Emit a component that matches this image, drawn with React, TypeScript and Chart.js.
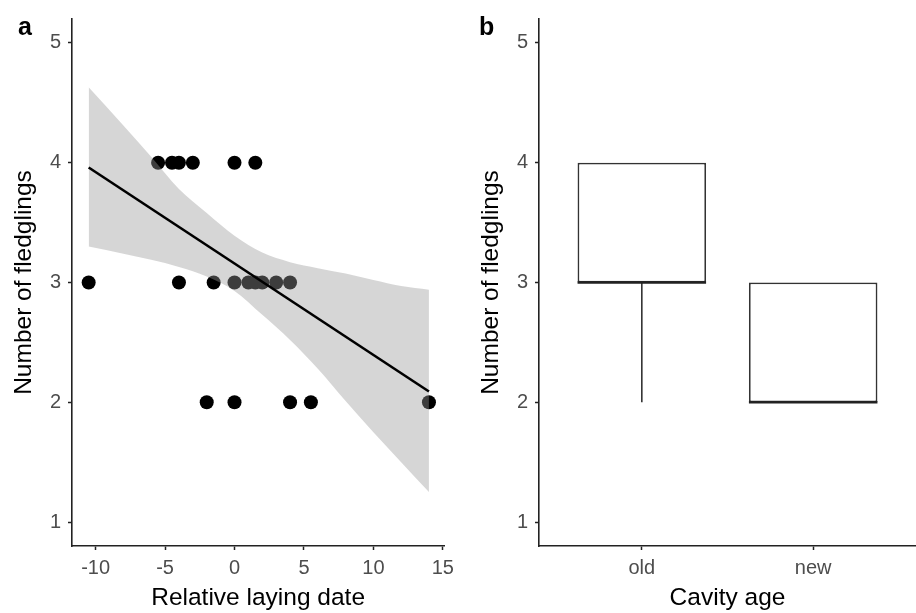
import React, { useEffect, useRef } from 'react';
import { Chart, registerables } from 'chart.js';

Chart.register(...registerables);

const FONT = "'Liberation Sans', Arial, Helvetica, sans-serif";

// Panel a: scatter of fledglings vs relative laying date
const layingDate = [-10.5, -5.5, -4.5, -4, -3, 0, 1.5, -4, -1.5, 0, 1, 1.5, 2, 3, 4, -2, 0, 4, 5.5, 14];
const fledglings = [3, 4, 4, 4, 4, 4, 4, 3, 3, 3, 3, 3, 3, 3, 3, 2, 2, 2, 2, 2];

// Fitted regression line (end points)
const fitX = [-10.5, 14];
const fitY = [3.96, 2.09];

// Confidence band
const bandX = [-10.5, -8, -6, -4, -2, 0, 2, 4, 6, 8, 10, 12, 14];
const bandUpper = [4.63, 4.31, 4.05, 3.78, 3.58, 3.39, 3.25, 3.17, 3.12, 3.075, 3.02, 2.97, 2.94];
const bandLower = [3.3, 3.24, 3.19, 3.13, 3.05, 2.93, 2.73, 2.52, 2.28, 2.01, 1.75, 1.5, 1.25];

const xTicksA = [-10, -5, 0, 5, 10, 15];
const yTicks = [1, 2, 3, 4, 5];

// Panel b: boxplot by cavity age
const cavityAge = ['old', 'new'];
const whiskerLow = [2, 2];
const q1 = [3, 2];
const median = [3, 2];
const q3 = [4, 3];
const whiskerHigh = [4, 3];
const BOX_WIDTH = 0.75;

const AXIS_COLOR = '#222';
const TICK_TEXT = '#4d4d4d';
const TICK_SIZE = 20;
const TITLE_SIZE = 24.5;

function yScale(titlePadTop: number, width: number) {
  return {
    type: 'linear',
    min: 0.8,
    max: 5.2,
    afterBuildTicks: (s: any) => {
      s.ticks = yTicks.map((v) => ({ value: v }));
    },
    afterFit: (s: any) => {
      s.width = width;
    },
    ticks: { font: { family: FONT, size: TICK_SIZE }, color: TICK_TEXT, padding: 7 },
    grid: { display: true, drawOnChartArea: false, drawTicks: true, tickLength: 4, tickColor: AXIS_COLOR, tickWidth: 1.5 },
    border: { display: true, color: AXIS_COLOR, width: 1.6 },
    title: {
      display: true,
      text: 'Number of fledglings',
      font: { family: FONT, size: TITLE_SIZE, lineHeight: 1.2 },
      color: '#000',
      padding: { top: titlePadTop, bottom: 0 },
    },
  };
}

function xTitle(text: string) {
  return {
    display: true,
    text,
    font: { family: FONT, size: TITLE_SIZE, lineHeight: 1.2 },
    color: '#000',
    padding: { top: 0, bottom: 0 },
  };
}

export default function App() {
  const refA = useRef<HTMLCanvasElement | null>(null);
  const refB = useRef<HTMLCanvasElement | null>(null);

  useEffect(() => {
    const chartA = new Chart(refA.current as HTMLCanvasElement, {
      type: 'line',
      data: {
        datasets: [
          {
            label: 'points',
            data: layingDate.map((x, i) => ({ x, y: fledglings[i] })),
            showLine: false,
            pointRadius: 7,
            pointBackgroundColor: '#000',
            pointBorderColor: '#000',
            pointBorderWidth: 0,
            order: 3,
          },
          {
            label: 'upper',
            data: bandX.map((x, i) => ({ x, y: bandUpper[i] })),
            borderColor: 'rgba(0,0,0,0)',
            borderWidth: 0,
            pointRadius: 0,
            fill: false,
            cubicInterpolationMode: 'monotone',
            order: 2,
          },
          {
            label: 'lower',
            data: bandX.map((x, i) => ({ x, y: bandLower[i] })),
            borderColor: 'rgba(0,0,0,0)',
            borderWidth: 0,
            pointRadius: 0,
            fill: 1,
            backgroundColor: 'rgba(153,153,153,0.4)',
            cubicInterpolationMode: 'monotone',
            order: 1,
          },
          {
            label: 'fit',
            data: fitX.map((x, i) => ({ x, y: fitY[i] })),
            borderColor: '#000',
            borderWidth: 2.6,
            pointRadius: 0,
            fill: false,
            order: 0,
          },
        ],
      } as any,
      options: {
        responsive: false,
        animation: false,
        events: [],
        layout: { padding: { top: 17, right: 11, left: 0, bottom: 0 } },
        plugins: { legend: { display: false }, tooltip: { enabled: false } },
        scales: {
          x: {
            type: 'linear',
            min: -11.7,
            max: 15.1,
            afterBuildTicks: (s: any) => {
              s.ticks = xTicksA.map((v) => ({ value: v }));
            },
            afterFit: (s: any) => {
              s.height = 67;
            },
            ticks: { font: { family: FONT, size: TICK_SIZE }, color: TICK_TEXT, padding: 6, maxRotation: 0, autoSkip: false },
            grid: { display: true, drawOnChartArea: false, drawTicks: true, tickLength: 4, tickColor: AXIS_COLOR, tickWidth: 1.5 },
            border: { display: true, color: AXIS_COLOR, width: 1.6 },
            title: xTitle('Relative laying date'),
          },
          y: yScale(9.9, 72),
        },
      } as any,
    });

    const medianData: any[] = [];
    const whiskerData: any[] = [];
    cavityAge.forEach((_, i) => {
      const c = i + 1;
      medianData.push({ x: c - BOX_WIDTH / 2, y: median[i] }, { x: c + BOX_WIDTH / 2, y: median[i] }, { x: c + 0.5, y: null });
      whiskerData.push(
        { x: c, y: whiskerLow[i] },
        { x: c, y: q1[i] },
        { x: c + 0.01, y: null },
        { x: c, y: q3[i] },
        { x: c, y: whiskerHigh[i] },
        { x: c + 0.02, y: null }
      );
    });

    const chartB = new Chart(refB.current as HTMLCanvasElement, {
      type: 'bar',
      data: {
        datasets: [
          {
            type: 'bar',
            label: 'box',
            data: cavityAge.map((_, i) => ({ x: i + 1, y: [q1[i], q3[i]] })),
            backgroundColor: '#fff',
            borderColor: '#333',
            borderWidth: 1.8,
            borderSkipped: false,
            categoryPercentage: 1,
            barPercentage: BOX_WIDTH,
            order: 2,
          },
          {
            type: 'line',
            label: 'median',
            data: medianData,
            borderColor: '#222',
            borderWidth: 2.6,
            pointRadius: 0,
            spanGaps: false,
            order: 0,
          },
          {
            type: 'line',
            label: 'whisker',
            data: whiskerData,
            borderColor: '#333',
            borderWidth: 1.6,
            pointRadius: 0,
            spanGaps: false,
            order: 1,
          },
        ],
      } as any,
      options: {
        responsive: false,
        animation: false,
        events: [],
        layout: { padding: { top: 17, right: 0, left: 0, bottom: 0 } },
        plugins: { legend: { display: false }, tooltip: { enabled: false } },
        scales: {
          x: {
            type: 'linear',
            min: 0.4,
            max: 2.6,
            offset: false,
            afterBuildTicks: (s: any) => {
              s.ticks = cavityAge.map((_, i) => ({ value: i + 1 }));
            },
            afterFit: (s: any) => {
              s.height = 67;
            },
            ticks: {
              font: { family: FONT, size: TICK_SIZE },
              color: TICK_TEXT,
              padding: 6,
              maxRotation: 0,
              autoSkip: false,
              callback: (v: any) => cavityAge[Math.round(Number(v)) - 1] ?? '',
            },
            grid: { display: true, offset: false, drawOnChartArea: false, drawTicks: true, tickLength: 4, tickColor: AXIS_COLOR, tickWidth: 1.5 },
            border: { display: true, color: AXIS_COLOR, width: 1.6 },
            title: xTitle('Cavity age'),
          },
          y: yScale(16.6, 79),
        },
      } as any,
    });

    return () => {
      chartA.destroy();
      chartB.destroy();
    };
  }, []);

  const labelStyle = (left: number): React.CSSProperties => ({
    position: 'absolute',
    left,
    top: 14,
    font: `bold 25px ${FONT}`,
    lineHeight: '25px',
    color: '#000',
  });

  return (
    <div style={{ position: 'absolute', left: 0, top: 0, width: 916, height: 613, background: '#fff', overflow: 'hidden' }}>
      <canvas ref={refA} width={460} height={613} style={{ position: 'absolute', left: 0, top: 0 }} />
      <canvas ref={refB} width={456} height={613} style={{ position: 'absolute', left: 460, top: 0 }} />
      <div style={labelStyle(18)}>a</div>
      <div style={labelStyle(479)}>b</div>
    </div>
  );
}
